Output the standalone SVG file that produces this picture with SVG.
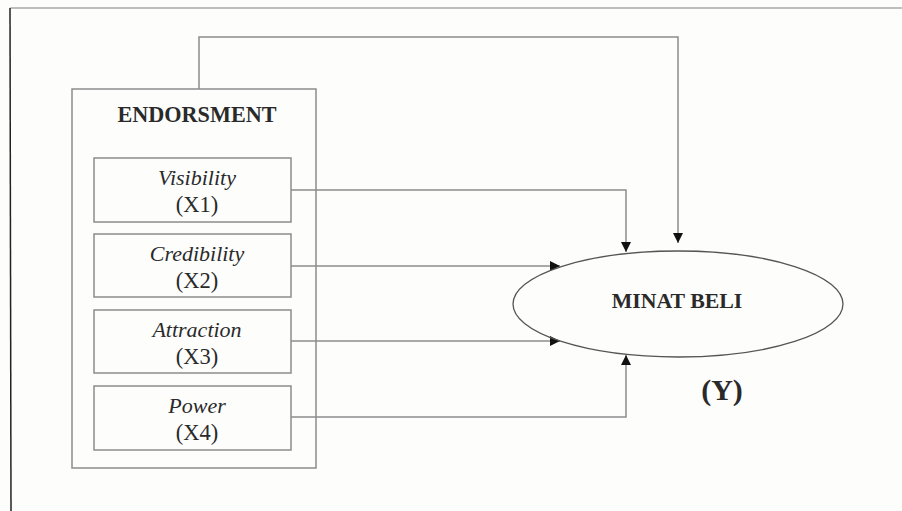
<svg xmlns="http://www.w3.org/2000/svg" width="902" height="511" viewBox="0 0 902 511">
<style>
.bg{fill:#fdfdfc}
.box{fill:none;stroke:#8c8c8c;stroke-width:1.5}
.frame{fill:none;stroke:#a8a8a8;stroke-width:1.5}
.conn{fill:none;stroke:#8c8c8c;stroke-width:1.5}
.t{font-family:"Liberation Serif","Times New Roman",serif;fill:#2a2a2a;text-anchor:middle}
.it{font-style:italic;font-size:22px}
.rg{font-size:22.5px}
.bd{font-weight:bold}
</style>
<defs>
<marker id="arr" viewBox="0 0 10 10" refX="10" refY="5" markerWidth="10" markerHeight="10" markerUnits="userSpaceOnUse" orient="auto">
<path d="M0,0 L10,5 L0,10 z" fill="#111"/>
</marker>
</defs>
<rect class="bg" x="0" y="0" width="902" height="511"/>
<g id="page-frame">
<line class="frame" x1="10" y1="8" x2="902" y2="8"/>
<line x1="10" y1="8" x2="11" y2="511" stroke="#222" stroke-width="1.5"/>
</g>
<g id="connectors">
<polyline class="conn" points="199,89 199,37 678,37 678,243" marker-end="url(#arr)"/>
<polyline class="conn" points="291,190 626,190 626,252" marker-end="url(#arr)"/>
<polyline class="conn" points="291,266 560,266" marker-end="url(#arr)"/>
<polyline class="conn" points="291,341 560,341" marker-end="url(#arr)"/>
<polyline class="conn" points="291,417 626,417 626,355" marker-end="url(#arr)"/>
</g>
<g id="endorsment">
<rect class="box" x="72" y="89" width="244" height="379"/>
<text class="t bd" x="197" y="122" font-size="22.2">ENDORSMENT</text>
</g>
<g id="x1">
<rect class="box" x="94" y="158" width="197" height="64"/>
<text class="t it" x="197" y="185">Visibility</text>
<text class="t rg" x="197" y="212">(X1)</text>
</g>
<g id="x2">
<rect class="box" x="94" y="234" width="197" height="63"/>
<text class="t it" x="197" y="261">Credibility</text>
<text class="t rg" x="197" y="288">(X2)</text>
</g>
<g id="x3">
<rect class="box" x="94" y="310" width="197" height="63"/>
<text class="t it" x="197" y="337">Attraction</text>
<text class="t rg" x="197" y="364">(X3)</text>
</g>
<g id="x4">
<rect class="box" x="94" y="386" width="197" height="64"/>
<text class="t it" x="197" y="413">Power</text>
<text class="t rg" x="197" y="440">(X4)</text>
</g>
<g id="minat-beli">
<ellipse cx="678" cy="304" rx="165" ry="53" fill="none" stroke="#555" stroke-width="1.3"/>
<text class="t bd" x="677" y="308" font-size="21.8">MINAT BELI</text>
<text class="t bd" x="722" y="400" font-size="30">(Y)</text>
</g>
</svg>
